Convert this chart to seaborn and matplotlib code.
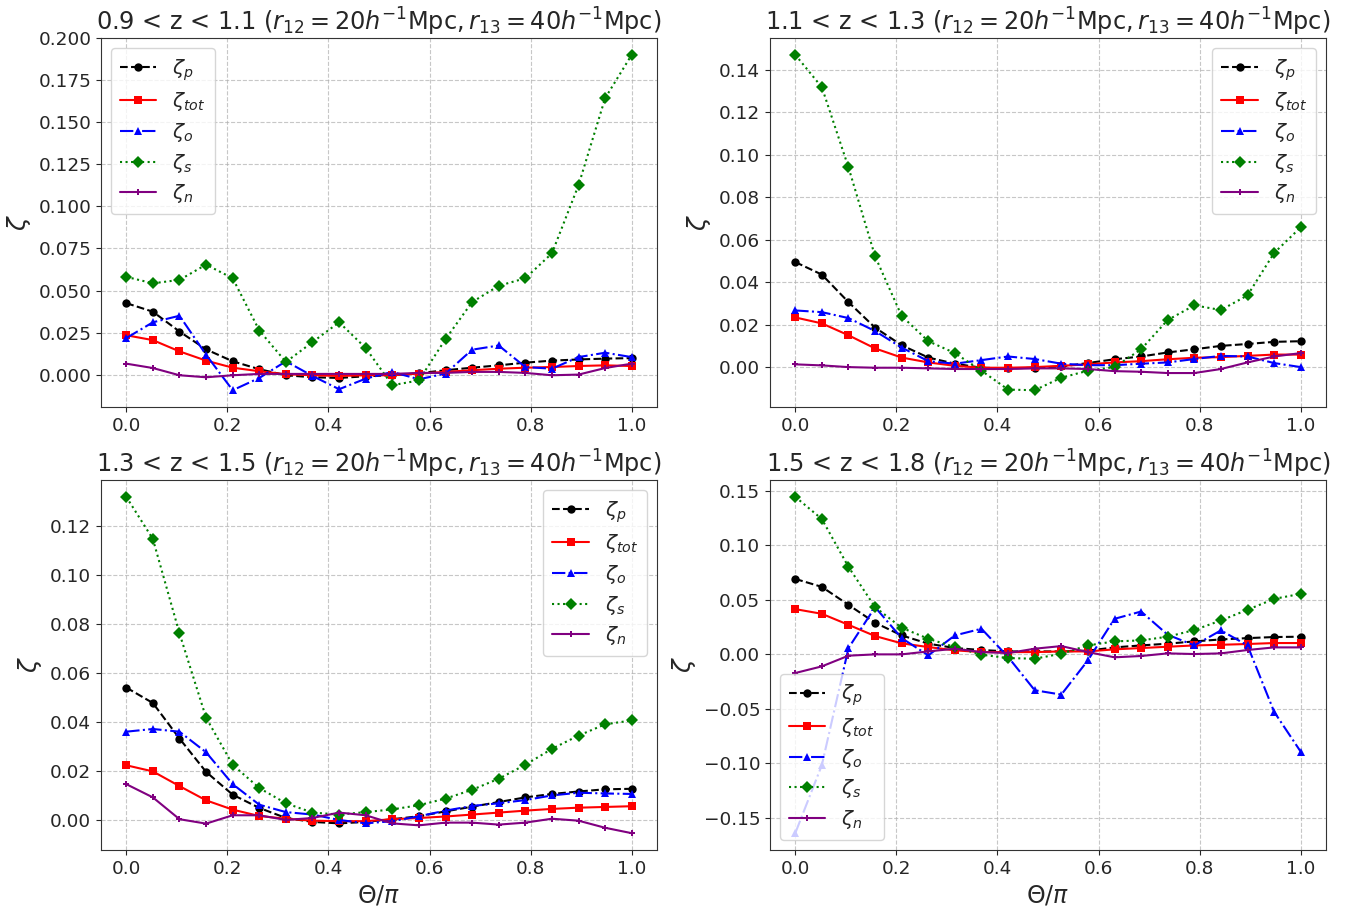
import matplotlib
matplotlib.use("Agg")
import matplotlib.pyplot as plt
import seaborn as sns
import pandas as pd

theta = [0.0, 0.0526, 0.1053, 0.1579, 0.2105, 0.2632, 0.3158, 0.3684, 0.4211, 0.4737,
         0.5263, 0.5789, 0.6316, 0.6842, 0.7368, 0.7895, 0.8421, 0.8947, 0.9474, 1.0]

titles = [
    r"0.9 < z < 1.1 ($r_{12}=20h^{-1}$Mpc$, r_{13}=40h^{-1}$Mpc)",
    r"1.1 < z < 1.3 ($r_{12}=20h^{-1}$Mpc$, r_{13}=40h^{-1}$Mpc)",
    r"1.3 < z < 1.5 ($r_{12}=20h^{-1}$Mpc$, r_{13}=40h^{-1}$Mpc)",
    r"1.5 < z < 1.8 ($r_{12}=20h^{-1}$Mpc$, r_{13}=40h^{-1}$Mpc)",
]

# Panel 1: 0.9 < z < 1.1
p1_zp = [0.0425, 0.0374, 0.0256, 0.0150, 0.0079, 0.0032, -0.0004, -0.0016, -0.0020, -0.0010,
         -0.0004, 0.0008, 0.0026, 0.0041, 0.0055, 0.0071, 0.0083, 0.0090, 0.0095, 0.0098]
p1_ztot = [0.0234, 0.0205, 0.0138, 0.0083, 0.0041, 0.0020, 0.0002, -0.0004, -0.0008, -0.0004,
           -0.0004, 0.0006, 0.0016, 0.0026, 0.0035, 0.0041, 0.0045, 0.0051, 0.0055, 0.0051]
p1_zo = [0.0217, 0.0311, 0.0350, 0.0118, -0.0093, -0.0020, 0.0079, -0.0008, -0.0087, -0.0024,
         0.0016, -0.0028, 0.0006, 0.0148, 0.0173, 0.0045, 0.0035, 0.0104, 0.0130, 0.0104]
p1_zs = [0.0581, 0.0543, 0.0563, 0.0654, 0.0573, 0.0262, 0.0075, 0.0193, 0.0311, 0.0158,
         -0.0063, -0.0035, 0.0211, 0.0431, 0.0528, 0.0573, 0.0721, 0.1126, 0.1644, 0.1902]
p1_zn = [0.0065, 0.0039, -0.0004, -0.0016, -0.0004, 0.0004, 0.0004, 0.0004, 0.0004, 0.0004,
         0.0004, 0.0010, 0.0010, 0.0016, 0.0016, 0.0010, -0.0004, 0.0000, 0.0039, 0.0065]

# Panel 2: 1.1 < z < 1.3
p2_zp = [0.0495, 0.0436, 0.0306, 0.0186, 0.0103, 0.0045, 0.0016, -0.0003, -0.0006, -0.0003,
         0.0003, 0.0019, 0.0037, 0.0050, 0.0069, 0.0084, 0.0100, 0.0109, 0.0119, 0.0122]
p2_ztot = [0.0234, 0.0206, 0.0150, 0.0088, 0.0045, 0.0022, 0.0006, -0.0003, -0.0003, 0.0000,
           0.0006, 0.0013, 0.0022, 0.0028, 0.0037, 0.0044, 0.0047, 0.0053, 0.0059, 0.0059]
p2_zo = [0.0267, 0.0259, 0.0231, 0.0170, 0.0092, 0.0028, 0.0016, 0.0033, 0.0050, 0.0038,
         0.0016, 0.0009, 0.0009, 0.0016, 0.0022, 0.0038, 0.0053, 0.0050, 0.0019, 0.0000]
p2_zs = [0.1472, 0.1319, 0.0941, 0.0522, 0.0241, 0.0122, 0.0066, -0.0017, -0.0106, -0.0109,
         -0.0050, -0.0017, 0.0000, 0.0084, 0.0222, 0.0291, 0.0269, 0.0338, 0.0538, 0.0659]
p2_zn = [0.0013, 0.0008, 0.0000, -0.0003, -0.0003, -0.0006, -0.0009, -0.0009, -0.0009, -0.0006,
         -0.0006, -0.0009, -0.0019, -0.0022, -0.0028, -0.0028, -0.0009, 0.0022, 0.0050, 0.0066]

# Panel 3: 1.3 < z < 1.5
p3_zp = [0.0540, 0.0477, 0.0332, 0.0196, 0.0103, 0.0049, 0.0008, -0.0008, -0.0014, -0.0008,
         0.0003, 0.0015, 0.0035, 0.0054, 0.0073, 0.0092, 0.0106, 0.0116, 0.0125, 0.0127]
p3_ztot = [0.0223, 0.0198, 0.0138, 0.0080, 0.0042, 0.0016, 0.0005, -0.0003, -0.0005, -0.0005,
           0.0003, 0.0008, 0.0014, 0.0022, 0.0030, 0.0038, 0.0045, 0.0050, 0.0053, 0.0056]
p3_zo = [0.0360, 0.0371, 0.0360, 0.0276, 0.0146, 0.0062, 0.0032, 0.0022, 0.0000, -0.0014,
         -0.0005, 0.0015, 0.0038, 0.0057, 0.0068, 0.0081, 0.0100, 0.0111, 0.0108, 0.0106]
p3_zs = [0.1318, 0.1146, 0.0761, 0.0417, 0.0225, 0.0130, 0.0068, 0.0030, 0.0022, 0.0032,
         0.0043, 0.0060, 0.0087, 0.0123, 0.0168, 0.0225, 0.0290, 0.0344, 0.0390, 0.0406]
p3_zn = [0.0146, 0.0092, 0.0003, -0.0015, 0.0019, 0.0019, 0.0000, 0.0008, 0.0030, 0.0019,
         -0.0014, -0.0022, -0.0011, -0.0011, -0.0019, -0.0011, 0.0005, -0.0003, -0.0032, -0.0054]

# Panel 4: 1.5 < z < 1.8
p4_zp = [0.0692, 0.0619, 0.0454, 0.0290, 0.0174, 0.0098, 0.0058, 0.0040, 0.0027, 0.0027,
         0.0027, 0.0034, 0.0064, 0.0082, 0.0098, 0.0119, 0.0137, 0.0149, 0.0159, 0.0162]
p4_ztot = [0.0415, 0.0372, 0.0271, 0.0168, 0.0101, 0.0067, 0.0037, 0.0021, 0.0021, 0.0021,
           0.0027, 0.0027, 0.0046, 0.0058, 0.0070, 0.0082, 0.0088, 0.0095, 0.0104, 0.0104]
p4_zo = [-0.1640, -0.1015, 0.0058, 0.0433, 0.0149, -0.0009, 0.0174, 0.0235, -0.0024, -0.0329,
         -0.0369, -0.0055, 0.0326, 0.0393, 0.0180, 0.0082, 0.0220, 0.0082, -0.0527, -0.0893]
p4_zs = [0.1445, 0.1241, 0.0802, 0.0433, 0.0244, 0.0143, 0.0067, -0.0003, -0.0034, -0.0040,
         0.0006, 0.0082, 0.0119, 0.0128, 0.0162, 0.0223, 0.0311, 0.0409, 0.0509, 0.0555]
p4_zn = [-0.0171, -0.0110, -0.0012, 0.0000, 0.0000, 0.0027, 0.0052, 0.0021, 0.0012, 0.0052,
         0.0076, 0.0021, -0.0027, -0.0015, 0.0009, 0.0003, 0.0009, 0.0040, 0.0064, 0.0064]

panels = [
    (p1_zp, p1_ztot, p1_zo, p1_zs, p1_zn),
    (p2_zp, p2_ztot, p2_zo, p2_zs, p2_zn),
    (p3_zp, p3_ztot, p3_zo, p3_zs, p3_zn),
    (p4_zp, p4_ztot, p4_zo, p4_zs, p4_zn),
]
labels = [r"$\zeta_p$", r"$\zeta_{tot}$", r"$\zeta_o$", r"$\zeta_s$", r"$\zeta_n$"]
styles = [
    dict(color="black", linestyle="--", marker="o", markersize=6),
    dict(color="red", linestyle="-", marker="s", markersize=6),
    dict(color="blue", linestyle="-.", marker="^", markersize=6),
    dict(color="green", linestyle=":", marker="D", markersize=6.5),
    dict(color="purple", linestyle="-", marker="P", markersize=5),
]
legend_locs = ["upper left", "upper right", "upper right", "lower left"]

sns.set_style("ticks")
plt.rcParams["font.family"] = ["DejaVu Sans"]
plt.rcParams["mathtext.fontset"] = "dejavusans"

W, H = 1345, 909
fig = plt.figure(figsize=(W / 100, H / 100), dpi=100)
boxes = [(101, 38, 657, 407), (770, 38, 1326, 407), (101, 480, 657, 850), (770, 480, 1326, 850)]

for i, (box, series) in enumerate(zip(boxes, panels)):
    l, t, r, b = box
    ax = fig.add_axes([l / W, 1 - b / H, (r - l) / W, (b - t) / H])
    for lab, vals, st in zip(labels, series, styles):
        df = pd.DataFrame({"theta": theta, "zeta": vals})
        sns.lineplot(data=df, x="theta", y="zeta", ax=ax, label=lab,
                     linewidth=1.5, markeredgewidth=0, **st)
    ax.set_title(titles[i], fontsize=17.3, pad=5)
    ax.set_ylabel(r"$\zeta$", fontsize=18)
    if i >= 2:
        ax.set_xlabel(r"$\Theta/\pi$", fontsize=17)
    else:
        ax.set_xlabel("")
    ax.set_xticks([0.0, 0.2, 0.4, 0.6, 0.8, 1.0])
    ax.tick_params(labelsize=13.3)
    ax.grid(True, linestyle="--", color="#b0b0b0", alpha=0.7, linewidth=0.8)
    for s in ax.spines.values():
        s.set_color("#333333")
    ax.legend(loc=legend_locs[i], fontsize=14.5, labelspacing=0.38, handlelength=1.8,
              framealpha=0.8, borderpad=0.45)

fig.savefig("out.png", dpi=100)
